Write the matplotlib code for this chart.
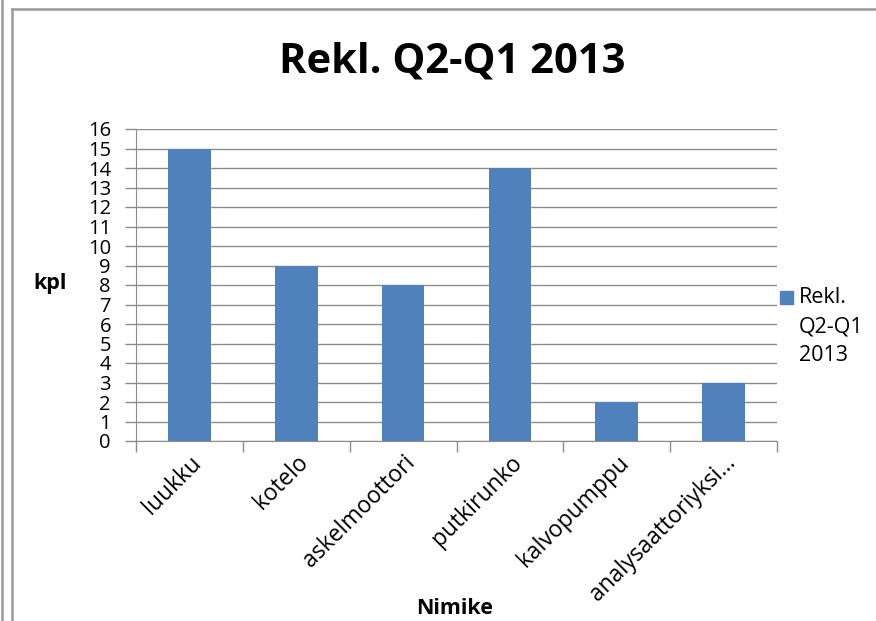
import matplotlib.pyplot as plt
from matplotlib.lines import Line2D
from matplotlib.patches import Rectangle

categories = ['luukku', 'kotelo', 'askelmoottori', 'putkirunko', 'kalvopumppu', 'analysaattoriyksi...']
values = [15, 9, 8, 14, 2, 3]
series_name = 'Rekl. Q2-Q1 2013'
yticks = list(range(0, 17))

W, H = 876, 621
plt.rcParams['font.family'] = ['Open Sans', 'DejaVu Sans']

fig = plt.figure(figsize=(W / 100, H / 100), dpi=100)

def fx(px):
    return px / W

def fy(py):
    return 1 - py / H

# outer frames (like the Excel sheet border)
grey = '#9a9a9a'
fig.add_artist(Line2D([fx(2), fx(2)], [fy(0), fy(H)], color=grey, lw=1.8))
fig.add_artist(Line2D([fx(12), fx(12)], [fy(9), fy(H)], color=grey, lw=1.8))
fig.add_artist(Line2D([fx(12), fx(W)], [fy(9), fy(9)], color=grey, lw=1.8))

ax = fig.add_axes([fx(136), fy(441), fx(777) - fx(136), fy(129) - fy(441)])

x = list(range(len(categories)))
ax.bar(x, values, width=0.4, color='#4F81BD', zorder=3)

ax.set_xlim(-0.5, len(categories) - 0.5)
ax.set_ylim(0, 16)
ax.set_yticks(yticks)
ax.set_yticklabels([str(t) for t in yticks], fontsize=14.5)
ax.yaxis.grid(True, color='#8c8c8c', lw=1, zorder=0)
ax.tick_params(axis='y', length=8, width=1, color='#8c8c8c', pad=10)

# category boundaries ticks
ax.set_xticks([i - 0.5 for i in range(len(categories) + 1)])
ax.set_xticklabels([])
ax.tick_params(axis='x', length=8, width=1, color='#8c8c8c', direction='out')
ax.set_xticks(x, minor=True)
ax.set_xticklabels(categories, minor=True, rotation=45, ha='right', va='top',
                   rotation_mode='anchor', fontsize=16.5)
ax.tick_params(axis='x', which='minor', length=0, pad=7)

for side in ['top', 'right']:
    ax.spines[side].set_visible(False)
ax.spines['left'].set_color('#8c8c8c')
ax.spines['bottom'].set_color('#8c8c8c')

fig.text(fx(452), fy(62), series_name, ha='center', va='center',
         fontsize=30, fontweight='bold')
fig.text(fx(50), fy(284), 'kpl', ha='center', va='center', fontsize=15.5, fontweight='bold')
fig.text(fx(455), fy(608), 'Nimike', ha='center', va='center', fontsize=15.5, fontweight='bold')

# legend
fig.patches.append(Rectangle((fx(780), fy(304)), fx(13), fy(291) - fy(304),
                             transform=fig.transFigure, color='#4F81BD'))
fig.text(fx(799), fy(287), 'Rekl.\nQ2-Q1\n2013', ha='left', va='top',
         fontsize=15.5, linespacing=1.5)

fig.savefig('out.png', dpi=100)
